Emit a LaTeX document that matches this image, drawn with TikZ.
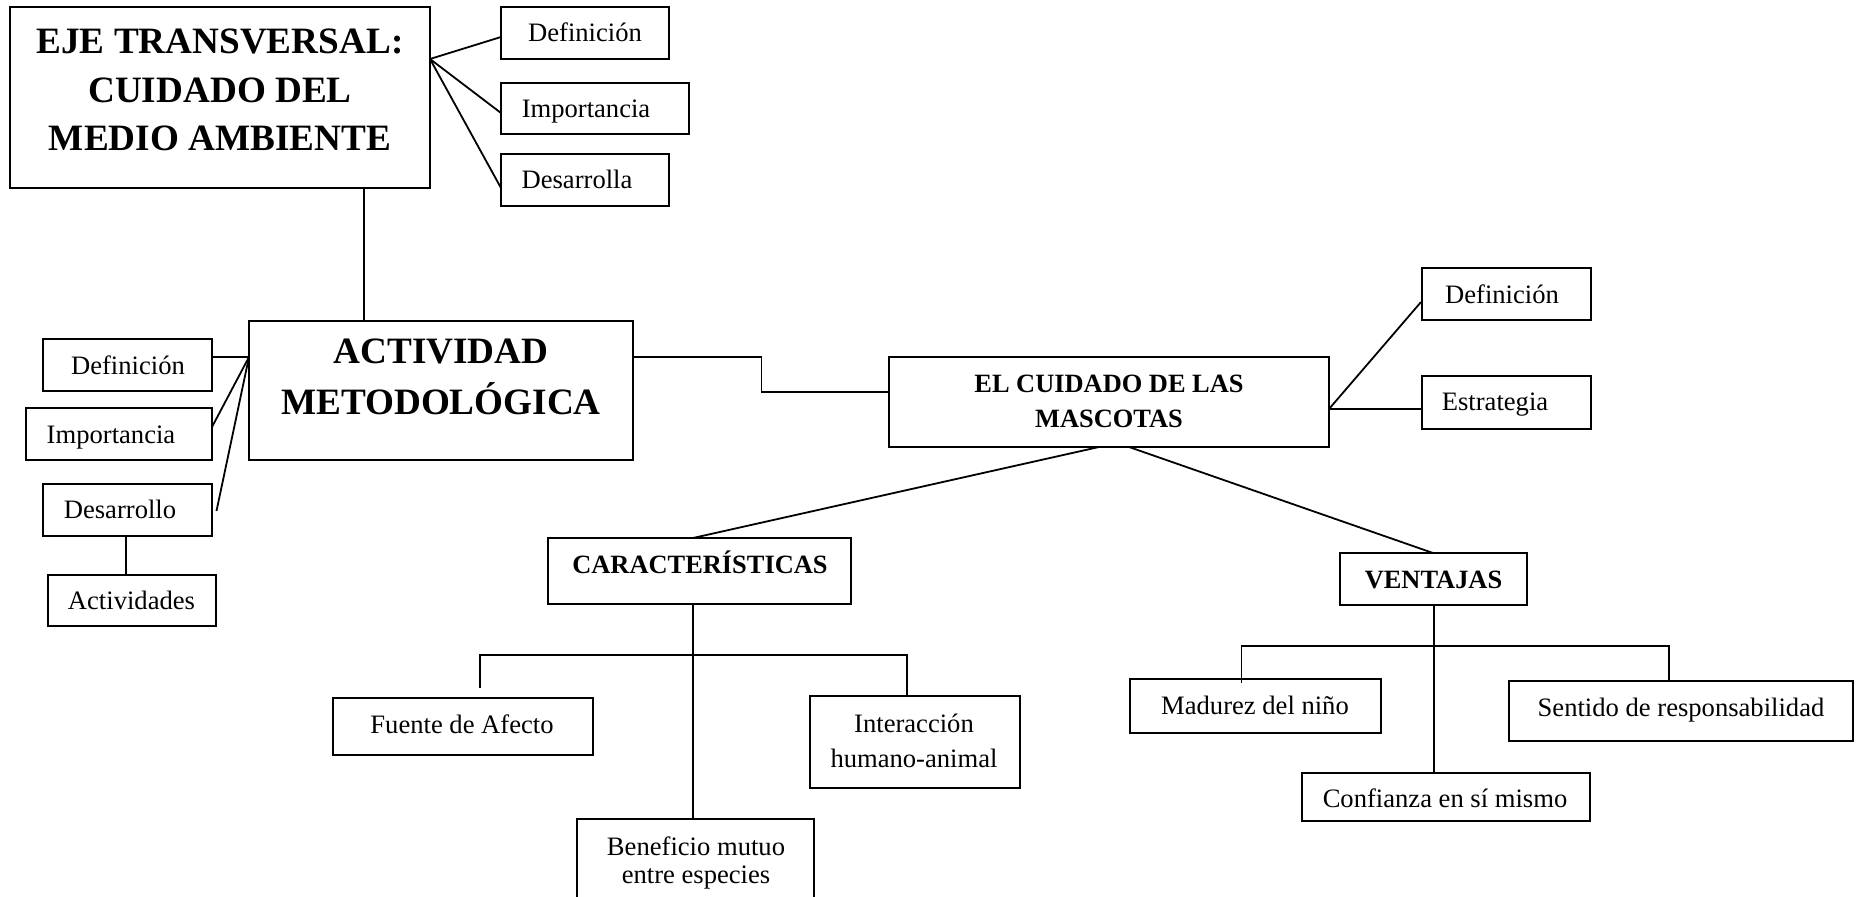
\documentclass[tikz,border=0pt]{standalone}
\usepackage{fontspec}
\setmainfont{Liberation Serif}
\usetikzlibrary{calc,fit}
\begin{document}
\begin{tikzpicture}[x=0.5pt,y=-0.5pt,
  box/.style={draw, line width=0.7pt, inner sep=0pt, outer sep=0pt},
  conn/.style={line width=0.9pt},
  lbl/.style={inner sep=0pt, font=\fontsize{13.3}{16}\selectfont, text height=8.8pt, text depth=0pt},
  lbltwo/.style={inner sep=0pt, align=center},
  hd/.style={inner sep=0pt, font=\bfseries\fontsize{13.2}{17.5}\selectfont, text height=8.9pt, text depth=0pt},
  hdtwo/.style={inner sep=0pt, font=\bfseries\fontsize{13.2}{17.5}\selectfont, align=center},
  big/.style={inner sep=0pt, font=\bfseries\fontsize{18.6}{24.3}\selectfont, align=center},
]
\useasboundingbox (0,0) rectangle (1857,897);
\clip (0,0) rectangle (1857,897);

% boxes
\node[box, fit={(10,7) (430,188)}] (eje) {};
\node[box, fit={(501,7) (669,59)}] (d1) {};
\node[box, fit={(501,83) (689,134)}] (i1) {};
\node[box, fit={(501,154) (669,206)}] (s1) {};
\node[box, fit={(249,321) (633,460)}] (act) {};
\node[box, fit={(43,339) (212,391)}] (d2) {};
\node[box, fit={(26,408) (212,460)}] (i2) {};
\node[box, fit={(43,484) (212,536)}] (s2) {};
\node[box, fit={(48,575) (216,626)}] (a2) {};
\node[box, fit={(889,357) (1329,447)}] (cui) {};
\node[box, fit={(1422,268) (1591,320)}] (d3) {};
\node[box, fit={(1422,376) (1591,429)}] (e3) {};
\node[box, fit={(548,538) (851,604)}] (car) {};
\node[box, fit={(1340,553) (1527,605)}] (ven) {};
\node[box, fit={(333,698) (593,755)}] (fue) {};
\node[box, fit={(810,696) (1020,788)}] (int) {};
\node[box, fit={(577,819) (814,930)}] (ben) {};
\node[box, fit={(1130,679) (1381,733)}] (mad) {};
\node[box, fit={(1509,681) (1853,741)}] (sen) {};
\node[box, fit={(1302,773) (1590,821)}] (con) {};

% texts
\node[big] (t-eje) at (220,90) {EJE TRANSVERSAL:\\CUIDADO DEL\\MEDIO AMBIENTE};
\node[big, font=\bfseries\fontsize{18.6}{25.5}\selectfont] (t-act) at (441,377) {ACTIVIDAD\\METODOLÓGICA};
\node[lbl] (t-d1) at (585,33) {Definición};
\node[lbl] (t-i1) at (586,109) {Importancia};
\node[lbl] (t-s1) at (577,180) {Desarrolla};
\node[lbl] (t-d2) at (128,366) {Definición};
\node[lbl] (t-i2) at (111,435) {Importancia};
\node[lbl] (t-s2) at (120,510) {Desarrollo};
\node[lbl] (t-a2) at (131.5,600.5) {Actividades};
\node[hdtwo] (t-cui) at (1109,401) {EL CUIDADO DE LAS\\MASCOTAS};
\node[lbl] (t-d3) at (1502,295) {Definición};
\node[lbl] (t-e3) at (1495,402) {Estrategia};
\node[hd] (t-car) at (700,565) {CARACTERÍSTICAS};
\node[hd] (t-ven) at (1433.5,580) {VENTAJAS};
\node[lbl] (t-fue) at (462,725) {Fuente de Afecto};
\node[lbltwo, font=\fontsize{13.3}{17.5}\selectfont] (t-int) at (914,741) {Interacción\\humano-animal};
\node[lbltwo, font=\fontsize{13.3}{14.2}\selectfont] (t-ben) at (696,863) {Beneficio mutuo\\entre especies};
\node[lbl] (t-mad) at (1255,706) {Madurez del niño};
\node[lbl] (t-sen) at (1681,708) {Sentido de responsabilidad};
\node[lbl] (t-con) at (1445,799) {Confianza en sí mismo};

% connectors
\draw[conn] (act.west |- eje.south) -- ++(115,0) -- ++(0,133) -- ++(116,0);
\coordinate (ej) at ($(eje.north east)+(0,52)$);
\draw[conn] (ej) -- ($(d1.north west)+(0,30)$);
\draw[conn] (ej) -- ($(i1.north west)+(0,30)$);
\draw[conn] (ej) -- ($(s1.north west)+(0,34)$);

\coordinate (aj) at ($(act.north west)+(0,36)$);
\draw[conn] (aj) -- (d2.east |- aj);
\draw[conn] (aj) -- ($(i2.north east)+(0,19)$);
\draw[conn] (aj) -- ($(s2.east)+(4.5,1)$);
\draw[conn] ($(s2.south west)+(83,0)$) -- ($(a2.north west)+(78,0)$);

\draw[conn] ($(act.north east)+(0,36)$) -- ++(128.5,0) |- ($(cui.north west)+(0,35)$);

\coordinate (cj) at ($(cui.north east)+(0,52)$);
\draw[conn] (cj) -- ($(d3.north west)+(-1,34)$);
\draw[conn] (cj) -- (e3.west |- cj);

\draw[conn] ($(cui.south west)+(210,0)$) -- ($(car.north west)+(145,0)$);
\draw[conn] ($(cui.south west)+(240,0)$) -- ($(ven.north west)+(93,0)$);

\draw[conn] ($(car.south west)+(145,0)$) -- ($(ben.north west)+(116,0)$);
\draw[conn] ($(fue.north west)+(147,-10)$) |- ($(int.north west)+(97,-41)$) -- ($(int.north west)+(97,0)$);

\draw[conn] ($(ven.south west)+(94,0)$) -- ($(con.north west)+(132,0)$);
\draw[conn] ($(mad.north west)+(111.5,4)$) |- ($(sen.north west)+(160,-35)$) -- ($(sen.north west)+(160,0)$);
\end{tikzpicture}
\end{document}
